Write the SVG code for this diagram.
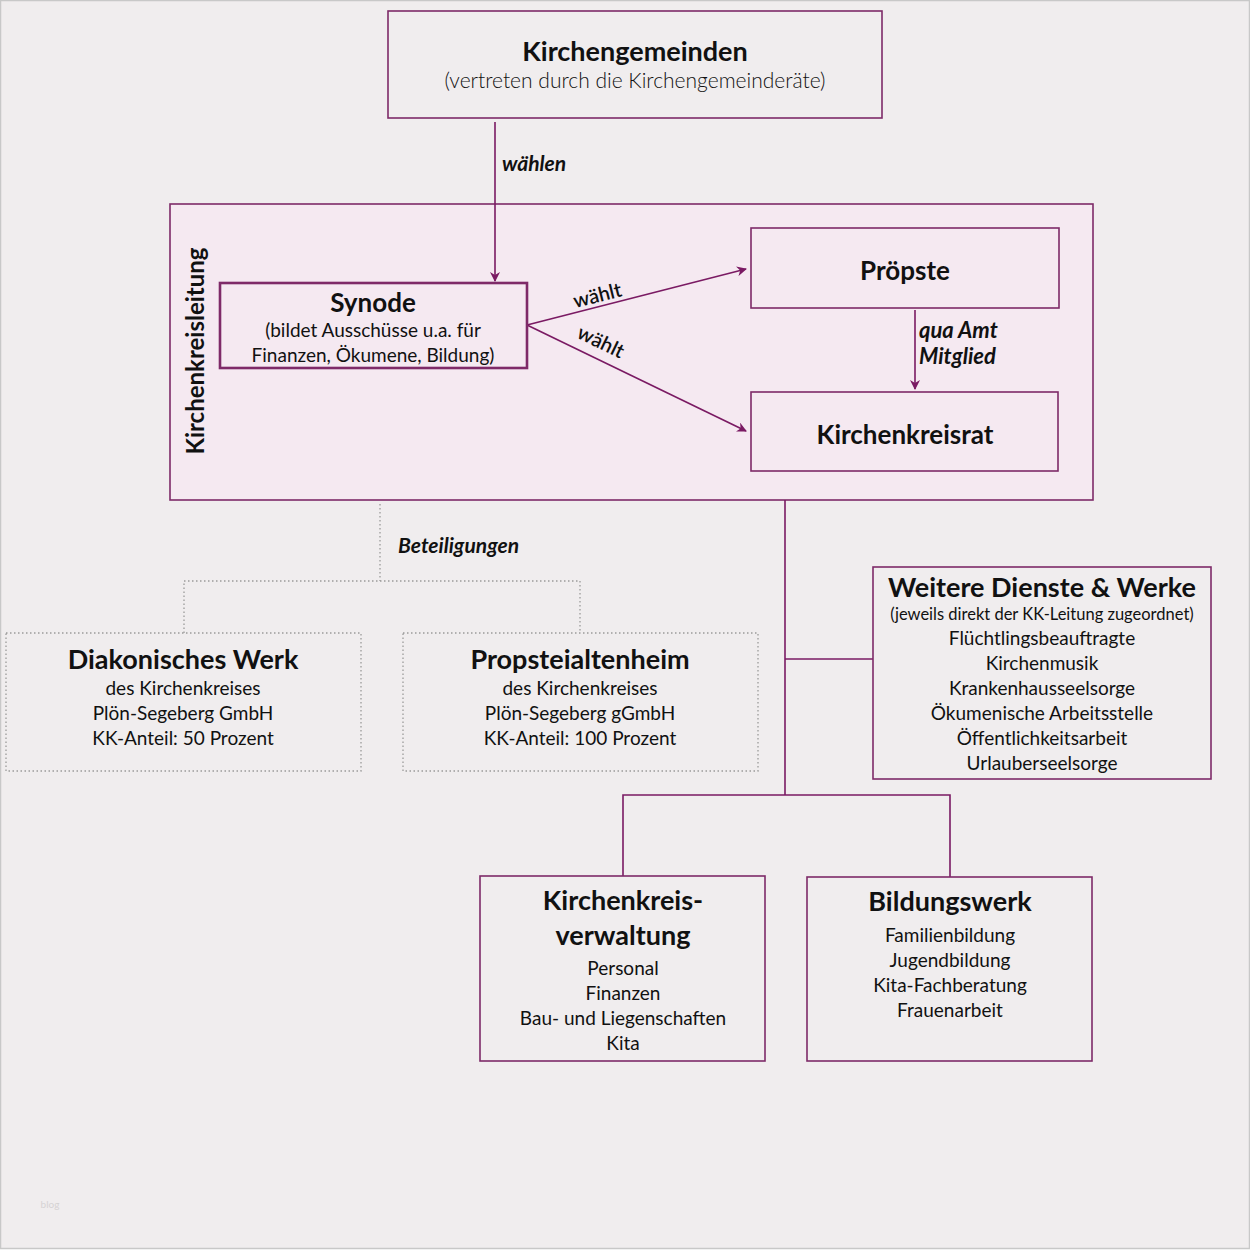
<svg xmlns="http://www.w3.org/2000/svg" width="1250" height="1250" viewBox="0 0 1250 1250">
<defs>
<marker id="ah" markerWidth="10" markerHeight="10" refX="9" refY="5" orient="auto" markerUnits="userSpaceOnUse">
<path d="M0,0 L10,5 L0,10 L3,5 Z" fill="#7a1a63"/>
</marker>
<style>
text{font-family:Lato,"Open Sans","Liberation Sans",sans-serif;fill:#111;text-anchor:middle}
.box{fill:none;stroke:#7e2a68;stroke-width:1.6}
.dot{fill:none;stroke:#9a9a9a;stroke-width:1.3;stroke-dasharray:1.5 2.5}
.con{fill:none;stroke:#7a1a63;stroke-width:1.6}
.t{font-weight:700;font-size:27px}
.s{font-size:19px}
.lab{font-weight:700;font-style:italic;font-size:21px;text-anchor:start}
</style>
</defs>
<rect x="0.5" y="0.5" width="1249" height="1248" fill="#f0edee" stroke="#c8c8c8" stroke-width="1.5"/>
<g id="kirchenkreisleitung">
<rect x="170" y="204" width="923" height="296" fill="#f5e9f1" stroke="#7e2a68" stroke-width="1.6"/>
<text transform="translate(204,351) rotate(-90)" style="font-weight:700;font-size:24px">Kirchenkreisleitung</text>
</g>
<g id="connectors">
<line class="con" x1="495" y1="122" x2="495" y2="281" marker-end="url(#ah)"/>
<line class="con" x1="527" y1="325" x2="746" y2="269" marker-end="url(#ah)"/>
<line class="con" x1="527" y1="325" x2="746" y2="431" marker-end="url(#ah)"/>
<line class="con" x1="915" y1="310" x2="915" y2="389" marker-end="url(#ah)"/>
<polyline class="con" points="785,500 785,795"/>
<polyline class="con" points="785,659 873,659"/>
<polyline class="con" points="623,876 623,795 950,795 950,877"/>
<polyline class="dot" points="380,504 380,581"/>
<polyline class="dot" points="184,633 184,581 580,581 580,633"/>
<text class="lab" x="502" y="171">wählen</text>
<text class="lab" transform="translate(599,302) rotate(-14)" style="text-anchor:middle;font-weight:600;font-style:normal;font-size:20px">wählt</text>
<text class="lab" transform="translate(598,348) rotate(25.7)" style="text-anchor:middle;font-weight:600;font-style:normal;font-size:20px">wählt</text>
<text class="lab" x="919" y="338" style="font-size:22px">qua Amt</text>
<text class="lab" x="919" y="364" style="font-size:22px">Mitglied</text>
<text class="lab" x="398" y="553" style="font-size:21px">Beteiligungen</text>
</g>
<g id="kirchengemeinden">
<rect class="box" x="388" y="11" width="494" height="107"/>
<text class="t" x="635" y="61">Kirchengemeinden</text>
<text x="635" y="88" style="font-size:21px;font-weight:300">(vertreten durch die Kirchengemeinderäte)</text>
</g>
<g id="synode">
<rect x="220" y="283" width="307" height="85" fill="none" stroke="#7e2a68" stroke-width="2.6"/>
<text x="373" y="312" style="font-weight:700;font-size:26px">Synode</text>
<text class="s" x="373" y="337">(bildet Ausschüsse u.a. für</text>
<text class="s" x="373" y="362">Finanzen, Ökumene, Bildung)</text>
</g>
<g id="proepste">
<rect class="box" x="751" y="228" width="308" height="80"/>
<text x="905" y="280" style="font-weight:700;font-size:26px">Pröpste</text>
</g>
<g id="kirchenkreisrat">
<rect class="box" x="751" y="392" width="307" height="79"/>
<text x="905" y="444" style="font-weight:700;font-size:26px">Kirchenkreisrat</text>
</g>
<g id="weitere">
<rect class="box" x="873" y="567" width="338" height="212"/>
<text class="t" x="1042" y="597">Weitere Dienste &amp; Werke</text>
<text x="1042" y="620" style="font-size:16.5px">(jeweils direkt der KK-Leitung zugeordnet)</text>
<text class="s" x="1042" y="645">Flüchtlingsbeauftragte</text>
<text class="s" x="1042" y="670">Kirchenmusik</text>
<text class="s" x="1042" y="695">Krankenhausseelsorge</text>
<text class="s" x="1042" y="720">Ökumenische Arbeitsstelle</text>
<text class="s" x="1042" y="745">Öffentlichkeitsarbeit</text>
<text class="s" x="1042" y="770">Urlauberseelsorge</text>
</g>
<g id="diakonisches">
<rect class="dot" x="6" y="633" width="355" height="138"/>
<text class="t" x="183" y="669">Diakonisches Werk</text>
<text class="s" x="183" y="695">des Kirchenkreises</text>
<text class="s" x="183" y="720">Plön-Segeberg GmbH</text>
<text class="s" x="183" y="745">KK-Anteil: 50 Prozent</text>
</g>
<g id="propsteialtenheim">
<rect class="dot" x="403" y="633" width="355" height="138"/>
<text class="t" x="580" y="669">Propsteialtenheim</text>
<text class="s" x="580" y="695">des Kirchenkreises</text>
<text class="s" x="580" y="720">Plön-Segeberg gGmbH</text>
<text class="s" x="580" y="745">KK-Anteil: 100 Prozent</text>
</g>
<g id="verwaltung">
<rect class="box" x="480" y="876" width="285" height="185"/>
<text class="t" x="623" y="910">Kirchenkreis-</text>
<text class="t" x="623" y="945">verwaltung</text>
<text class="s" x="623" y="975">Personal</text>
<text class="s" x="623" y="1000">Finanzen</text>
<text class="s" x="623" y="1025">Bau- und Liegenschaften</text>
<text class="s" x="623" y="1050">Kita</text>
</g>
<g id="bildungswerk">
<rect class="box" x="807" y="877" width="285" height="184"/>
<text class="t" x="950" y="911">Bildungswerk</text>
<text class="s" x="950" y="942">Familienbildung</text>
<text class="s" x="950" y="967">Jugendbildung</text>
<text class="s" x="950" y="992">Kita-Fachberatung</text>
<text class="s" x="950" y="1017">Frauenarbeit</text>
</g>
<text x="50" y="1208" style="font-size:10px;fill:#d6d3d4">blog</text>
</svg>
